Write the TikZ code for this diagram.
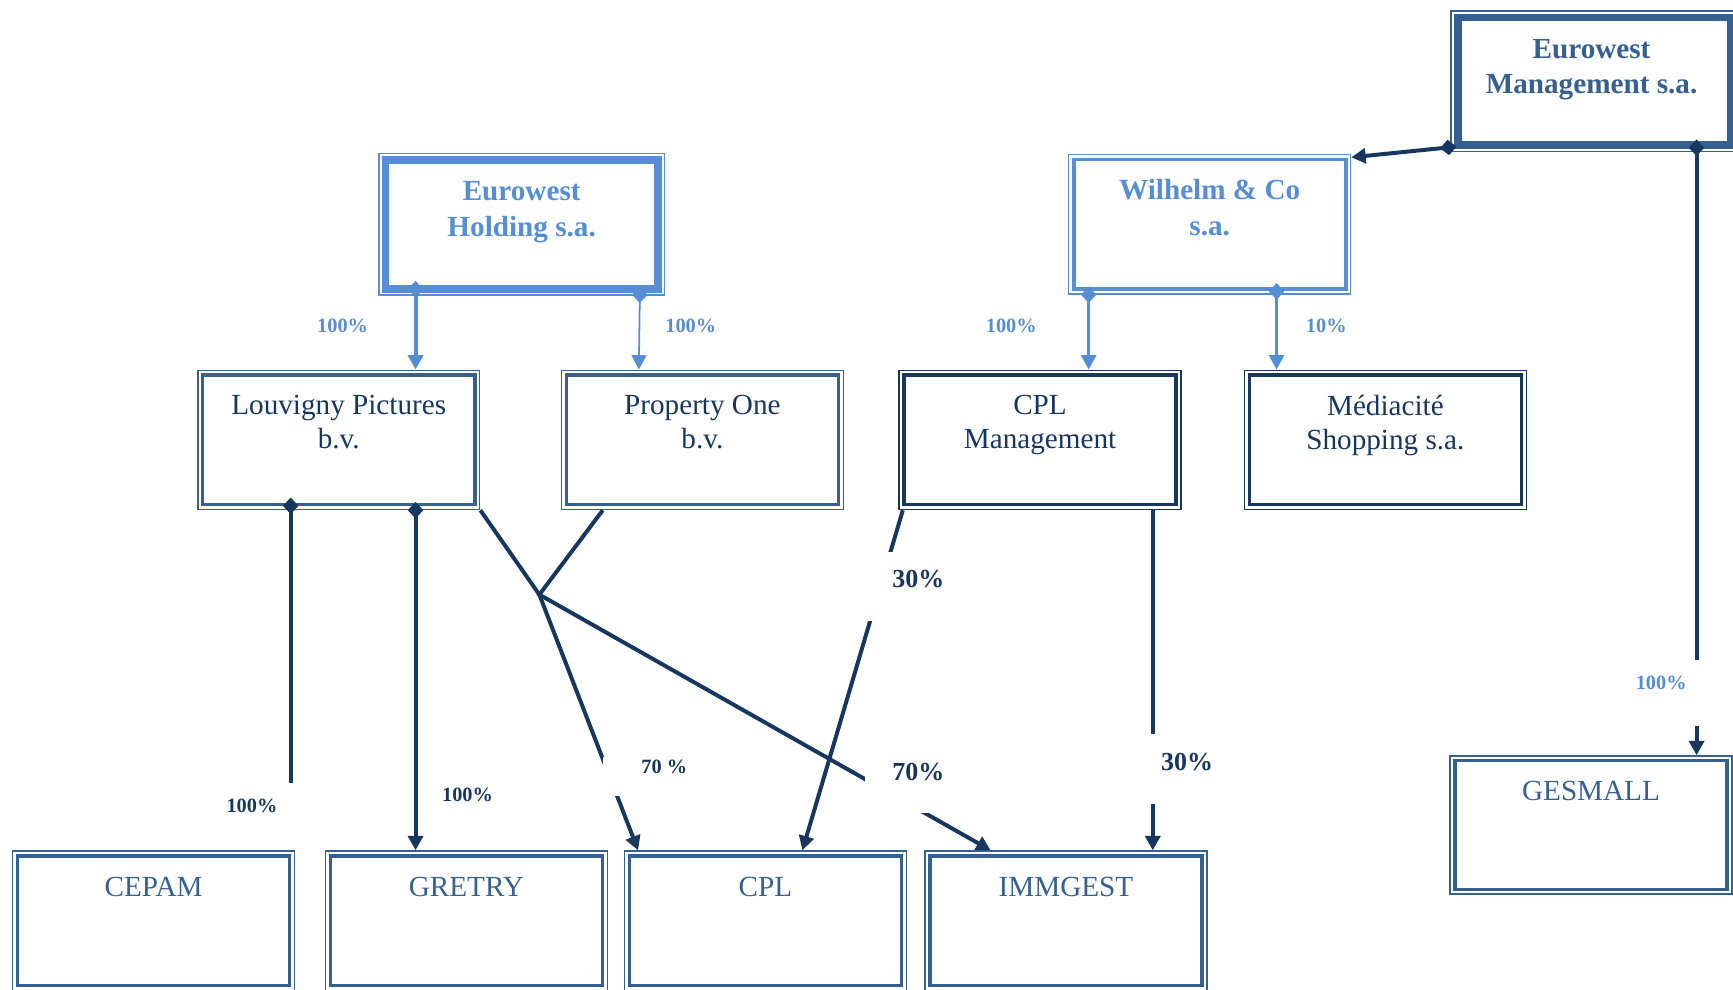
\documentclass[tikz,border=0pt]{standalone}
\usepackage{fontspec}
\setmainfont{Liberation Serif}
\usetikzlibrary{arrows.meta}
\definecolor{ewlight}{RGB}{85,142,213}
\definecolor{ewmid}{RGB}{55,96,146}
\definecolor{ewnavy}{RGB}{23,55,94}
\tikzset{
  box/.style={draw=#1, line width=1.3pt, inner sep=0pt, minimum width=255pt, minimum height=126pt},
  boxtext/.style={anchor=north, align=center, inner sep=0pt, font=\fontsize{26.4}{31}\selectfont},
  boldtext/.style={boxtext, font=\fontsize{26.4}{32}\selectfont\bfseries},
  pct/.style={anchor=base, fill=white, inner sep=0pt, font=\fontsize{18.4}{20}\selectfont\bfseries},
  pctbig/.style={pct, font=\fontsize{23.5}{26}\selectfont\bfseries},
  rel/.style={ewnavy, line width=3.6pt},
  own/.style={rel, {Diamond[length=15pt,width=14pt]}->},
  ownlight/.style={own, ewlight}
}
\begin{document}
\begin{tikzpicture}[x=1pt, y=-1pt, >={Triangle[length=13pt,width=13.5pt]}]
  \useasboundingbox (0,0) rectangle (1568,895);

  % Companies
  \node[box=ewmid, minimum width=259pt, minimum height=127pt] (ewm) at (1442.5,73.5) {};
  \node[box=ewlight, minimum width=258pt, minimum height=128pt] (ewh) at (472,203) {};
  \node[box=ewlight] (wil) at (1094.5,203) {};
  \node[box=ewmid] (lou) at (306.5,398) {};
  \node[box=ewmid] (pro) at (635.5,398) {};
  \node[box=ewnavy] (cplm) at (941,398) {};
  \node[box=ewnavy] (med) at (1253.5,398) {};
  \node[box=ewmid] (cepam) at (139,833) {};
  \node[box=ewmid] (gretry) at (422,833) {};
  \node[box=ewmid] (cpl) at (692.5,833) {};
  \node[box=ewmid] (imm) at (964.5,833) {};
  \node[box=ewmid, minimum height=125pt] (ges) at (1439.5,746.5) {};

  % Inner border of each double frame
  \foreach \n/\c/\w/\o in {ewm/ewmid/7/6.5, ewh/ewlight/7/6.5, wil/ewlight/3.5/5,
      lou/ewmid/3/5, pro/ewmid/3/5, cplm/ewnavy/3/5, med/ewnavy/3/5,
      cepam/ewmid/3/5, gretry/ewmid/3/5, cpl/ewmid/3/5, imm/ewmid/3/5, ges/ewmid/3/5}
    \draw[\c, line width=\w pt] ([xshift=\o pt,yshift=-\o pt]\n.north west)
      rectangle ([xshift=-\o pt,yshift=\o pt]\n.south east);

  % Names
  \node[boldtext, text=ewmid] (ewm-t) at ([xshift=-2.5pt,yshift=-26pt]ewm.north) {Eurowest\\Management s.a.};
  \node[boldtext, text=ewlight] (ewh-t) at ([yshift=-26pt]ewh.north) {Eurowest\\Holding s.a.};
  \node[boldtext, text=ewlight] (wil-t) at ([yshift=-23pt]wil.north) {Wilhelm \& Co\\s.a.};
  \node[boxtext, text=ewnavy] (lou-t) at ([yshift=-23pt]lou.north) {Louvigny Pictures\\b.v.};
  \node[boxtext, text=ewnavy] (pro-t) at ([yshift=-23pt]pro.north) {Property One\\b.v.};
  \node[boxtext, text=ewnavy] (cplm-t) at ([yshift=-23pt]cplm.north) {CPL\\Management};
  \node[boxtext, text=ewnavy] (med-t) at ([yshift=-23pt]med.north) {Médiacité\\Shopping s.a.};
  \node[boxtext, text=ewmid] (cepam-t) at ([yshift=-24pt]cepam.north) {CEPAM};
  \node[boxtext, text=ewmid] (gretry-t) at ([yshift=-24pt]gretry.north) {GRETRY};
  \node[boxtext, text=ewmid] (cpl-t) at ([yshift=-24pt]cpl.north) {CPL};
  \node[boxtext, text=ewmid] (imm-t) at ([yshift=-24pt]imm.north) {IMMGEST};
  \node[boxtext, text=ewmid] (ges-t) at ([yshift=-23pt]ges.north) {GESMALL};

  % Holdings
  \draw[own] ([xshift=5.5pt,yshift=5pt]ewm.south west) -- ([yshift=-3pt]wil.north east);
  \draw[own] ([xshift=92.5pt,yshift=11.5pt]ewm.south) -- ([xshift=95.5pt]ges.north);
  \draw[ownlight] ([xshift=-96pt,yshift=13.5pt]ewh.south) -- ([xshift=69.5pt]lou.north);
  \draw[ownlight, line width=1.6pt] ([xshift=107pt,yshift=8.5pt]ewh.south) -- ([xshift=-57.5pt]pro.north);
  \draw[ownlight, line width=2.6pt] ([xshift=-109.5pt,yshift=7.5pt]wil.south) -- ([xshift=44pt]cplm.north);
  \draw[ownlight, line width=2.6pt] ([xshift=60.5pt,yshift=10.5pt]wil.south) -- ([xshift=-98.5pt]med.north);
  \draw[rel, {Diamond[length=15pt,width=14pt]}-] ([xshift=-43.5pt,yshift=11.5pt]lou.south) -- ([xshift=124pt,yshift=4pt]cepam.north);
  \draw[own] ([xshift=69.5pt,yshift=7.5pt]lou.south) -- ([xshift=-46pt]gretry.north);

  % Joint holdings
  \coordinate (split) at (488,538);
  \draw[rel, ->] (lou.south east) -- (split) -- ([xshift=13pt]cpl.north west);
  \draw[rel, ->] ([xshift=38pt]pro.south west) -- (split) -- ([xshift=60pt]imm.north west);
  \draw[rel, ->] ([xshift=4pt]cplm.south west) -- ([xshift=33.5pt]cpl.north);
  \draw[rel, ->] ([xshift=102pt]cplm.south) -- ([xshift=78.5pt]imm.north);

  % Percentages
  \node[pct, text=ewlight] (p-lou) at (310,301) {100\%};
  \node[pct, text=ewlight] (p-pro) at (625,301) {100\%};
  \node[pct, text=ewlight] (p-cplm) at (915,301) {100\%};
  \node[pct, text=ewlight] (p-med) at (1200,301) {10\%};
  \node[pct, text=ewlight, inner xsep=13pt, text height=27pt, text depth=33pt] (p-ges) at (1503,624) {100\%};
  \node[pct, text=ewnavy, inner xsep=17pt, text height=27pt, text depth=33pt] (p-cepam) at (228,735) {100\%};
  \node[pct, text=ewnavy] (p-gretry) at (423,725) {100\%};
  \node[pct, text=ewnavy, inner xsep=35pt, text height=15pt, text depth=20pt] (p-cpl) at (601,700) {70 \%};
  \node[pctbig, text=ewnavy, inner xsep=24.5pt, text height=33pt, text depth=30pt] (p-cplm-cpl) at (831,532) {30\%};
  \node[pctbig, text=ewnavy, inner xsep=24.5pt, text height=22pt, text depth=30pt] (p-imm) at (831,706) {70\%};
  \node[pctbig, text=ewnavy, inner xsep=12.5pt, text height=33pt, text depth=30pt] (p-cplm-imm) at (1074,697) {30\%};
\end{tikzpicture}
\end{document}
